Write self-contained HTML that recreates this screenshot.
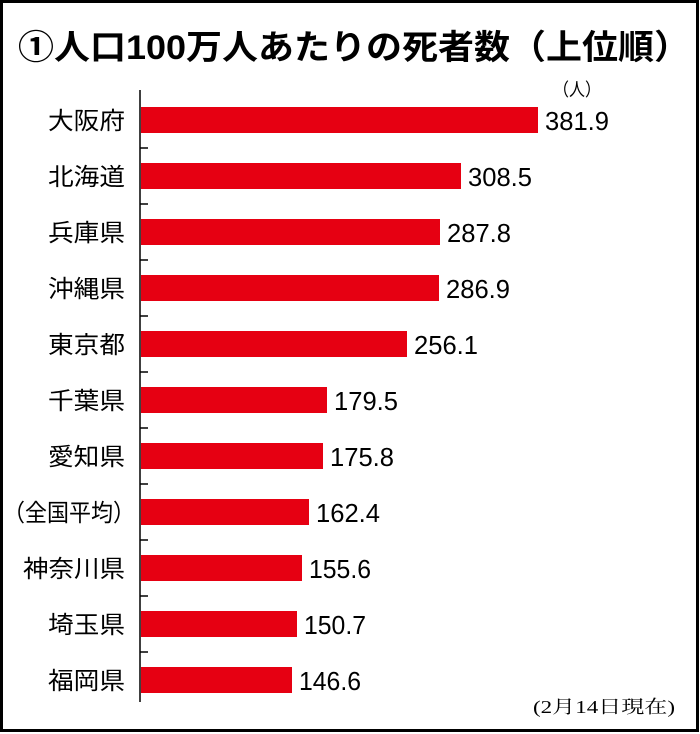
<!DOCTYPE html>
<html><head><meta charset="utf-8"><style>
body{margin:0;width:700px;height:734px;background:#fff;overflow:hidden}
svg{display:block}
text{font-family:"Liberation Sans","Noto Sans CJK JP",sans-serif}
</style></head><body>
<svg width="700" height="734" viewBox="0 0 700 734">
<rect x="1.5" y="1.5" width="696" height="729" fill="#fff" stroke="#000" stroke-width="3"/>
<text x="18" y="59" font-size="34" font-weight="bold" fill="#000" textLength="672" lengthAdjust="spacingAndGlyphs">①人口100万人あたりの死者数（上位順）</text>
<text x="553" y="96" font-size="18" fill="#000" textLength="48" lengthAdjust="spacingAndGlyphs">（人）</text>
<line x1="140" y1="90" x2="140" y2="702" stroke="#000" stroke-width="1.5"/>
<g stroke="#000" stroke-width="1.5">
<line x1="140" y1="148" x2="148" y2="148"/><line x1="140" y1="204" x2="148" y2="204"/><line x1="140" y1="260" x2="148" y2="260"/><line x1="140" y1="316" x2="148" y2="316"/><line x1="140" y1="372" x2="148" y2="372"/><line x1="140" y1="428" x2="148" y2="428"/><line x1="140" y1="484" x2="148" y2="484"/><line x1="140" y1="540" x2="148" y2="540"/><line x1="140" y1="596" x2="148" y2="596"/><line x1="140" y1="652" x2="148" y2="652"/>
</g>
<g fill="#e60012">
<rect x="141" y="107" width="397" height="26"/>
<rect x="141" y="163" width="320" height="26"/>
<rect x="141" y="219" width="299" height="26"/>
<rect x="141" y="275" width="298" height="26"/>
<rect x="141" y="331" width="266" height="26"/>
<rect x="141" y="387" width="186" height="26"/>
<rect x="141" y="443" width="182" height="26"/>
<rect x="141" y="499" width="168" height="26"/>
<rect x="141" y="555" width="161" height="26"/>
<rect x="141" y="611" width="156" height="26"/>
<rect x="141" y="667" width="151" height="26"/>
</g>
<g font-size="24" fill="#000">
<text x="48" y="129" textLength="77" lengthAdjust="spacingAndGlyphs">大阪府</text>
<text x="48" y="185" textLength="77" lengthAdjust="spacingAndGlyphs">北海道</text>
<text x="48" y="241" textLength="77" lengthAdjust="spacingAndGlyphs">兵庫県</text>
<text x="48" y="297" textLength="77" lengthAdjust="spacingAndGlyphs">沖縄県</text>
<text x="48" y="353" textLength="77" lengthAdjust="spacingAndGlyphs">東京都</text>
<text x="48" y="409" textLength="77" lengthAdjust="spacingAndGlyphs">千葉県</text>
<text x="48" y="465" textLength="77" lengthAdjust="spacingAndGlyphs">愛知県</text>
<text x="3" y="521" textLength="132" lengthAdjust="spacingAndGlyphs">（全国平均）</text>
<text x="23" y="577" textLength="102" lengthAdjust="spacingAndGlyphs">神奈川県</text>
<text x="48" y="633" textLength="77" lengthAdjust="spacingAndGlyphs">埼玉県</text>
<text x="48" y="689" textLength="77" lengthAdjust="spacingAndGlyphs">福岡県</text>
</g>
<g font-size="26" fill="#000">
<text x="545" y="130" textLength="64" lengthAdjust="spacingAndGlyphs">381.9</text>
<text x="468" y="186" textLength="64" lengthAdjust="spacingAndGlyphs">308.5</text>
<text x="447" y="242" textLength="64" lengthAdjust="spacingAndGlyphs">287.8</text>
<text x="446" y="298" textLength="64" lengthAdjust="spacingAndGlyphs">286.9</text>
<text x="414" y="354" textLength="64" lengthAdjust="spacingAndGlyphs">256.1</text>
<text x="334" y="410" textLength="64" lengthAdjust="spacingAndGlyphs">179.5</text>
<text x="330" y="466" textLength="64" lengthAdjust="spacingAndGlyphs">175.8</text>
<text x="316" y="522" textLength="64" lengthAdjust="spacingAndGlyphs">162.4</text>
<text x="309" y="578" textLength="62" lengthAdjust="spacingAndGlyphs">155.6</text>
<text x="304" y="634" textLength="62" lengthAdjust="spacingAndGlyphs">150.7</text>
<text x="299" y="690" textLength="62" lengthAdjust="spacingAndGlyphs">146.6</text>
</g>
<text x="533" y="713" font-size="18" fill="#000" style="font-family:'Liberation Serif','Noto Serif CJK SC',serif" textLength="142" lengthAdjust="spacingAndGlyphs">(2月14日現在)</text>
</svg>
</body></html>
